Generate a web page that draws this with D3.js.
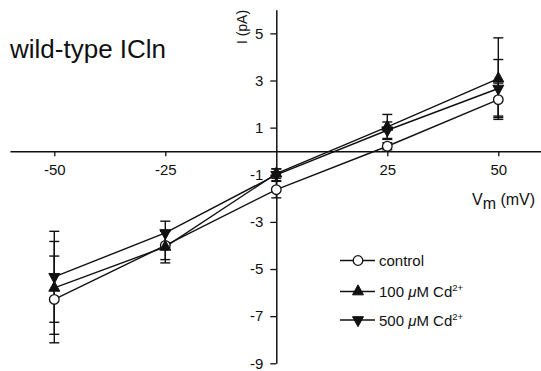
<!DOCTYPE html>
<html><head><meta charset="utf-8">
<script src="https://cdn.jsdelivr.net/npm/d3@7"></script>
<style>
html,body{margin:0;padding:0;background:#fff;}
svg{display:block;font-family:"Liberation Sans",Arial,sans-serif;}
</style></head>
<body>
<svg id="chart" width="541" height="371"></svg>
<script>
// ---- data ----
const voltages = [-50, -25, 0, 25, 50];
const controlMean = [-6.29, -4.0, -1.63, 0.21, 2.19];
const controlErr  = [1.84, 0.6, 0.35, 0.15, 0.7];
const cd100Mean   = [-5.80, -4.06, -0.95, 1.03, 3.08];
const cd100Err    = [1.97, 0.68, 0.2, 0.53, 1.73];
const cd500Mean   = [-5.33, -3.47, -1.0, 0.89, 2.66];
const cd500Err    = [1.93, 0.5, 0.25, 0.35, 1.23];
const xTicks = [-50, -25, 25, 50];
const yTicks = [5, 3, 1, -1, -3, -5, -7, -9];
const seriesNames = ["control", "100 ", "500 "];

const svg = d3.select("#chart");
const x = d3.scaleLinear().domain([-60, 60]).range([9.9, 542.7]);
const y = d3.scaleLinear().domain([-9, 6]).range([363.3, 9.8]);
const fmt = d => String(d);

// title
svg.append("text").attr("x", 10).attr("y", 58).attr("font-size", 26).attr("fill", "#111")
  .text("wild-type ICln");

// x axis
const gx = svg.append("g").attr("transform", `translate(0,${y(0)})`)
  .call(d3.axisBottom(x).tickValues(xTicks).tickSize(5).tickSizeOuter(0).tickFormat(fmt));
gx.select(".domain").attr("stroke", "#111").attr("stroke-width", 1.5);
gx.selectAll(".tick line").attr("stroke", "#111").attr("stroke-width", 1.3);
gx.selectAll(".tick text").attr("y", 13).attr("font-size", 15).attr("font-family", "Liberation Sans, Arial, sans-serif").attr("fill", "#111");

// y axis
const gy = svg.append("g").attr("transform", `translate(${x(0)},0)`)
  .call(d3.axisLeft(y).tickValues(yTicks).tickSize(6).tickPadding(7).tickSizeOuter(0).tickFormat(fmt));
gy.select(".domain").attr("stroke", "#111").attr("stroke-width", 1.5);
gy.selectAll(".tick line").attr("stroke", "#111").attr("stroke-width", 1.3);
gy.selectAll(".tick text").attr("font-size", 15).attr("font-family", "Liberation Sans, Arial, sans-serif").attr("fill", "#111");

// axis titles
svg.append("text").attr("transform", `translate(247,27) rotate(-90)`).attr("text-anchor", "middle")
  .attr("font-size", 14).attr("fill", "#111").text("I (pA)");
const vt = svg.append("text").attr("x", 472).attr("y", 205).attr("font-size", 16).attr("fill", "#111");
vt.append("tspan").text("V");
vt.append("tspan").attr("dy", 4).text("m");
vt.append("tspan").attr("dy", -4).text(" (mV)");

// series
const series = [
  {name: seriesNames[0], mean: controlMean, err: controlErr, sym: "circle"},
  {name: seriesNames[1], mean: cd100Mean, err: cd100Err, sym: "up"},
  {name: seriesNames[2], mean: cd500Mean, err: cd500Err, sym: "down"}
];

function drawMarker(g, sym, cx, cy) {
  if (sym === "circle") {
    g.append("circle").attr("cx", cx).attr("cy", cy).attr("r", 4.8)
      .attr("fill", "#fff").attr("stroke", "#111").attr("stroke-width", 1.3);
  } else {
    const s = sym === "up" ? -1 : 1;
    const h = 10, w = 11;
    const pts = [[cx - w/2, cy - s*h/3], [cx + w/2, cy - s*h/3], [cx, cy + s*2*h/3]];
    g.append("path").attr("d", d3.line()(pts) + "Z").attr("fill", "#111").attr("stroke", "#111").attr("stroke-width", 1);
  }
}

const line = d3.line().x(d => x(d[0])).y(d => y(d[1]));
const gData = svg.append("g");
// error bars
series.forEach(s => {
  voltages.forEach((v, i) => {
    const cx = x(v), y1 = y(s.mean[i] + s.err[i]), y2 = y(s.mean[i] - s.err[i]);
    gData.append("line").attr("x1", cx).attr("x2", cx).attr("y1", y1).attr("y2", y2)
      .attr("stroke", "#111").attr("stroke-width", 1.4);
    [y1, y2].forEach(yy => gData.append("line").attr("x1", cx - 5).attr("x2", cx + 5)
      .attr("y1", yy).attr("y2", yy).attr("stroke", "#111").attr("stroke-width", 1.4));
  });
});
// lines
series.forEach(s => {
  gData.append("path").datum(voltages.map((v, i) => [v, s.mean[i]])).attr("d", line)
    .attr("fill", "none").attr("stroke", "#111").attr("stroke-width", 1.4);
});
// markers
series.forEach(s => {
  voltages.forEach((v, i) => drawMarker(gData, s.sym, x(v), y(s.mean[i])));
});

// legend
const legY = [260.5, 291.5, 320];
series.forEach((s, i) => {
  const g = svg.append("g");
  g.append("line").attr("x1", 340).attr("x2", 375).attr("y1", legY[i]).attr("y2", legY[i])
    .attr("stroke", "#111").attr("stroke-width", 1.4);
  drawMarker(g, s.sym, 358, legY[i]);
  const t = g.append("text").attr("x", 379).attr("y", legY[i] + 5.5).attr("font-size", 15).attr("fill", "#111");
  t.append("tspan").text(s.name);
  if (i > 0) {
    t.append("tspan").attr("font-style", "italic").text("\u03BC");
    t.append("tspan").text("M Cd");
    t.append("tspan").attr("dy", -6).attr("font-size", 9.5).text("2+");
  }
});
</script>
</body></html>
